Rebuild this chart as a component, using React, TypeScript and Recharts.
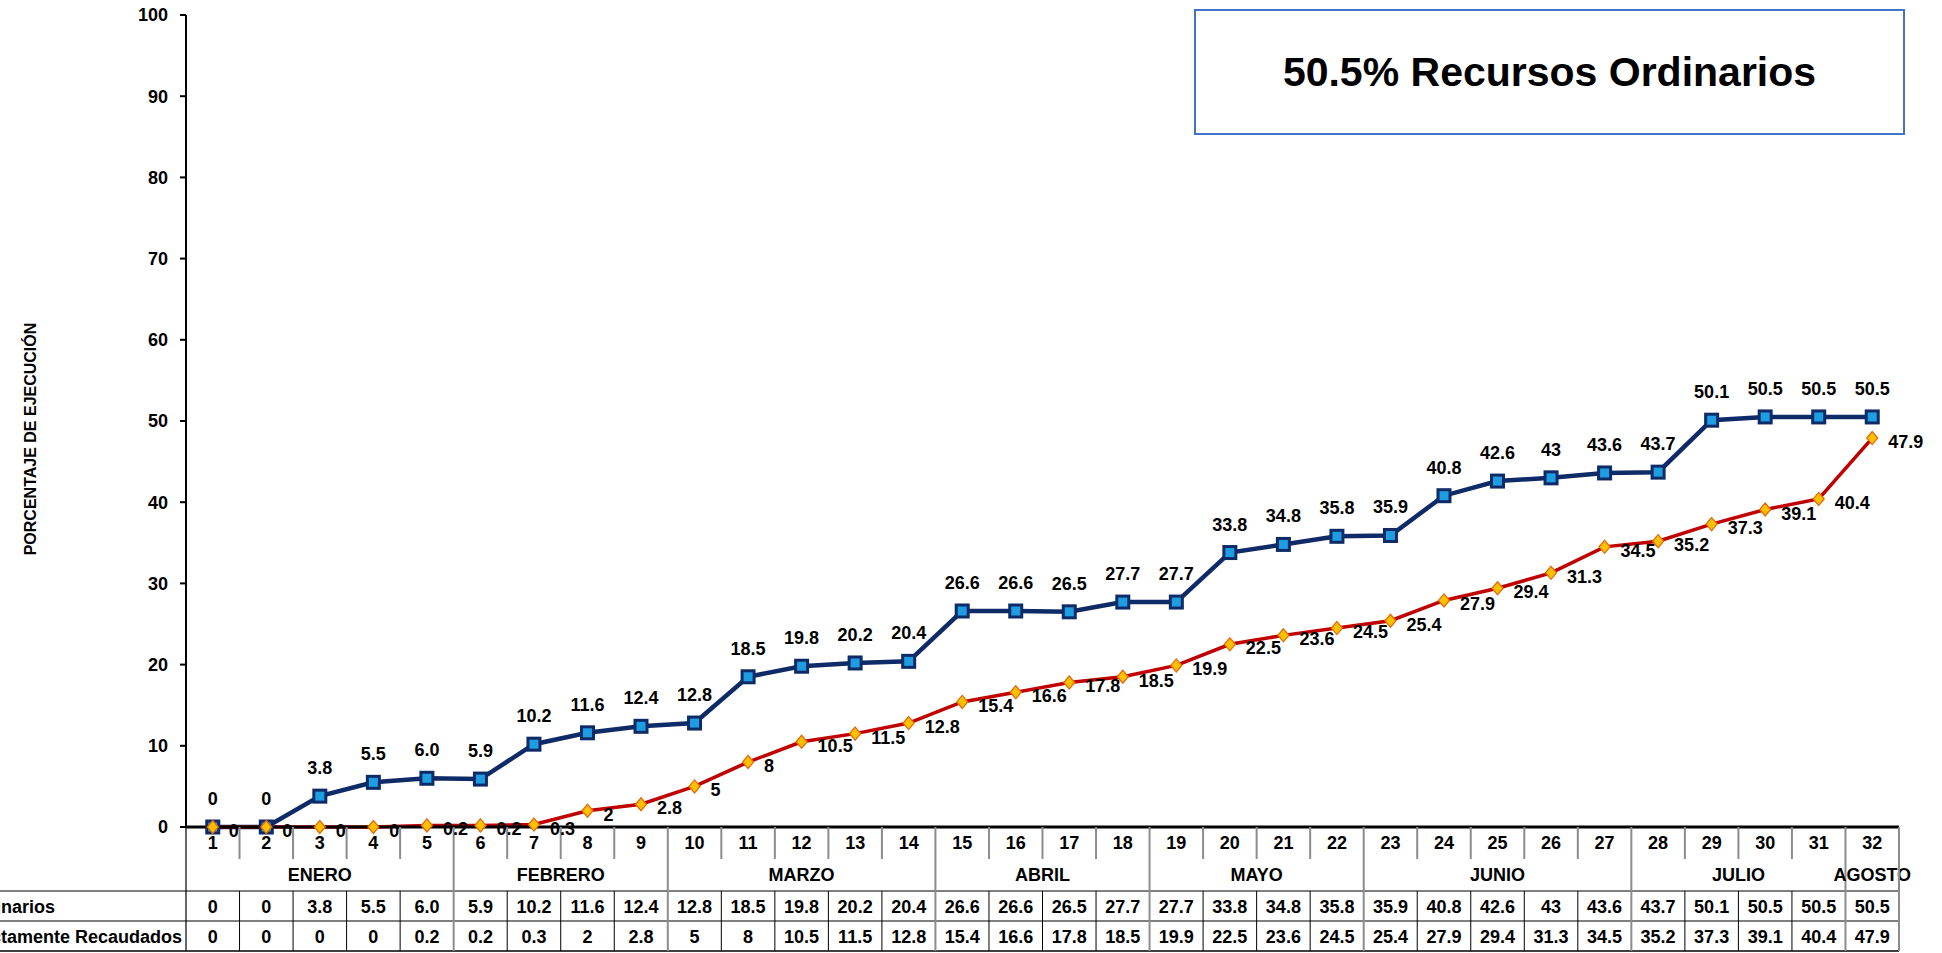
import React from 'react';
import { LineChart, Line, XAxis, YAxis, LabelList } from 'recharts';

// Semanas (categorias del eje X)
const semanas = [
  '1', '2', '3', '4', '5', '6', '7', '8', '9', '10', '11', '12', '13', '14', '15', '16',
  '17', '18', '19', '20', '21', '22', '23', '24', '25', '26', '27', '28', '29', '30', '31', '32',
];

const meses = ['ENERO', 'FEBRERO', 'MARZO', 'ABRIL', 'MAYO', 'JUNIO', 'JULIO', 'AGOSTO'];
const semanasPorMes = [5, 4, 5, 4, 4, 5, 4, 1];

// Valores tal como aparecen en la tabla
const ordinarios = [
  '0', '0', '3.8', '5.5', '6.0', '5.9', '10.2', '11.6', '12.4', '12.8', '18.5', '19.8', '20.2', '20.4', '26.6', '26.6',
  '26.5', '27.7', '27.7', '33.8', '34.8', '35.8', '35.9', '40.8', '42.6', '43', '43.6', '43.7', '50.1', '50.5', '50.5', '50.5',
];
const recaudados = [
  '0', '0', '0', '0', '0.2', '0.2', '0.3', '2', '2.8', '5', '8', '10.5', '11.5', '12.8', '15.4', '16.6',
  '17.8', '18.5', '19.9', '22.5', '23.6', '24.5', '25.4', '27.9', '29.4', '31.3', '34.5', '35.2', '37.3', '39.1', '40.4', '47.9',
];

const yTicks = [0, 10, 20, 30, 40, 50, 60, 70, 80, 90, 100];

const nombreOrd = 'Recursos Ordinarios';
const nombreRdr = 'Recursos Directamente Recaudados';
const titulo = '50.5% Recursos Ordinarios';
const tituloEjeY = 'PORCENTAJE DE EJECUCIÓN';

// layout
const W = 1942;
const H = 953;
const PLOT_LEFT = 186;
const PLOT_RIGHT = 1899;
const PLOT_TOP = 15;
const PLOT_BOTTOM = 827;
const BAND = (PLOT_RIGHT - PLOT_LEFT) / semanas.length;
const FONT = '"Liberation Sans", Arial, sans-serif';

const AZUL = '#0E2B67';
const AZUL_CLARO = '#1E9DE3';
const ROJO = '#C00000';
const AMARILLO = '#FFC000';
const GRIS = '#8C8C8C';

const data = semanas.map((s, i) => ({
  semana: s,
  ord: Number(ordinarios[i]),
  rdr: Number(recaudados[i]),
  ordTxt: ordinarios[i],
  rdrTxt: recaudados[i],
}));

// indices de inicio y fin de cada mes
const inicioMes: number[] = [];
const finMes: number[] = [];
let acc = 0;
semanasPorMes.forEach(n => {
  inicioMes.push(acc);
  acc += n;
  finMes.push(acc - 1);
});

const txt = { fontFamily: FONT, fontWeight: 700, fontSize: 18, fill: '#000' };

function TablaTick(props: any) {
  const { x, y, payload } = props;
  const i: number = payload.index ?? props.index;
  const half = BAND / 2;
  const right = x + half;
  const esFinMes = finMes.includes(i);
  const m = inicioMes.indexOf(i);

  return (
    <g>
      {i === 0 && (
        <g>
          <line x1={-5} x2={PLOT_RIGHT} y1={y + 64} y2={y + 64} stroke="#000" strokeWidth={1.2} />
          <line x1={-5} x2={PLOT_RIGHT} y1={y + 94} y2={y + 94} stroke="#000" strokeWidth={1.2} />
          <line x1={-5} x2={PLOT_RIGHT} y1={y + 124} y2={y + 124} stroke="#000" strokeWidth={1.5} />
          <line x1={x - half} x2={x - half} y1={y} y2={y + 124} stroke="#000" strokeWidth={1.2} />
          {/* etiquetas de fila recortadas por el borde izquierdo, como en el original */}
          <text x={-123} y={y + 80} dominantBaseline="central" {...txt}>{nombreOrd}</text>
          <text x={-131} y={y + 110} dominantBaseline="central" {...txt}>{nombreRdr}</text>
        </g>
      )}
      <text x={x} y={y + 16} textAnchor="middle" dominantBaseline="central" {...txt}>{payload.value}</text>
      {m >= 0 && (
        <text
          x={x - half + (semanasPorMes[m] * BAND) / 2}
          y={y + 48}
          textAnchor="middle"
          dominantBaseline="central"
          {...txt}
        >
          {meses[m]}
        </text>
      )}
      {esFinMes ? (
        <line x1={right} x2={right} y1={y} y2={y + 124} stroke={GRIS} strokeWidth={2} />
      ) : (
        <g>
          <line x1={right} x2={right} y1={y} y2={y + 32} stroke={GRIS} strokeWidth={2} />
          <line x1={right} x2={right} y1={y + 64} y2={y + 124} stroke="#000" strokeWidth={1} />
        </g>
      )}
      <text x={x} y={y + 80} textAnchor="middle" dominantBaseline="central" {...txt}>{ordinarios[i]}</text>
      <text x={x} y={y + 110} textAnchor="middle" dominantBaseline="central" {...txt}>{recaudados[i]}</text>
    </g>
  );
}

const CuadradoAzul = (p: any) => (
  <rect
    key={`o-${p.index}`}
    x={p.cx - 6}
    y={p.cy - 6}
    width={12}
    height={12}
    fill={AZUL_CLARO}
    stroke={AZUL}
    strokeWidth={3}
  />
);

const RomboAmarillo = (p: any) => (
  <polygon
    key={`r-${p.index}`}
    points={`${p.cx},${p.cy - 6.5} ${p.cx + 5.5},${p.cy} ${p.cx},${p.cy + 6.5} ${p.cx - 5.5},${p.cy}`}
    fill={AMARILLO}
    stroke="#E46C0A"
    strokeWidth={1.3}
  />
);

const EtiquetaAzul = (p: any) => (
  <text x={p.x} y={p.y - 28} textAnchor="middle" dominantBaseline="central" {...txt}>
    {p.value}
  </text>
);

const EtiquetaRoja = (p: any) => (
  <text x={p.x + 16} y={p.y + 4} textAnchor="start" dominantBaseline="central" {...txt}>
    {p.value}
  </text>
);

const EjeYTitulo = (p: any) => {
  const cx = 30;
  const cy = p.viewBox.y + p.viewBox.height / 2 + 18;
  return (
    <text
      x={cx}
      y={cy}
      transform={`rotate(-90 ${cx} ${cy})`}
      textAnchor="middle"
      dominantBaseline="central"
      style={{ fontFamily: FONT, fontWeight: 700, fontSize: 16, fill: '#000' }}
    >
      {tituloEjeY}
    </text>
  );
};

export default function App() {
  return (
    <div style={{ position: 'absolute', left: 0, top: 0, width: W, height: H, background: '#fff', overflow: 'hidden' }}>
      <LineChart
        width={W}
        height={H}
        data={data}
        margin={{ top: PLOT_TOP, right: W - PLOT_RIGHT, left: 0, bottom: 0 }}
      >
        <XAxis
          dataKey="semana"
          interval={0}
          height={H - PLOT_BOTTOM}
          padding={{ left: BAND / 2, right: BAND / 2 }}
          axisLine={{ stroke: '#000', strokeWidth: 3 }}
          tickLine={false}
          tickSize={0}
          tickMargin={0}
          tick={<TablaTick />}
        />
        <YAxis
          width={PLOT_LEFT}
          domain={[0, 100]}
          ticks={yTicks}
          interval={0}
          axisLine={{ stroke: '#000', strokeWidth: 2 }}
          tickLine={{ stroke: '#000', strokeWidth: 2 }}
          tickSize={6}
          tickMargin={12}
          tick={{ fontFamily: FONT, fontWeight: 700, fontSize: 18, fill: '#000' }}
          label={{ content: EjeYTitulo }}
        />
        <Line
          name={nombreOrd}
          type="linear"
          dataKey="ord"
          stroke={AZUL}
          strokeWidth={4.5}
          dot={CuadradoAzul}
          activeDot={false}
          isAnimationActive={false}
        >
          <LabelList dataKey="ordTxt" content={EtiquetaAzul} />
        </Line>
        <Line
          name={nombreRdr}
          type="linear"
          dataKey="rdr"
          stroke={ROJO}
          strokeWidth={3.5}
          dot={RomboAmarillo}
          activeDot={false}
          isAnimationActive={false}
        >
          <LabelList dataKey="rdrTxt" content={EtiquetaRoja} />
        </Line>
      </LineChart>
      <div
        style={{
          position: 'absolute',
          left: 1194,
          top: 9,
          width: 711,
          height: 126,
          boxSizing: 'border-box',
          border: '2px solid #4472C4',
          display: 'flex',
          alignItems: 'center',
          justifyContent: 'center',
          fontFamily: FONT,
          fontWeight: 700,
          fontSize: 41,
          color: '#000',
        }}
      >
        {titulo}
      </div>
    </div>
  );
}
